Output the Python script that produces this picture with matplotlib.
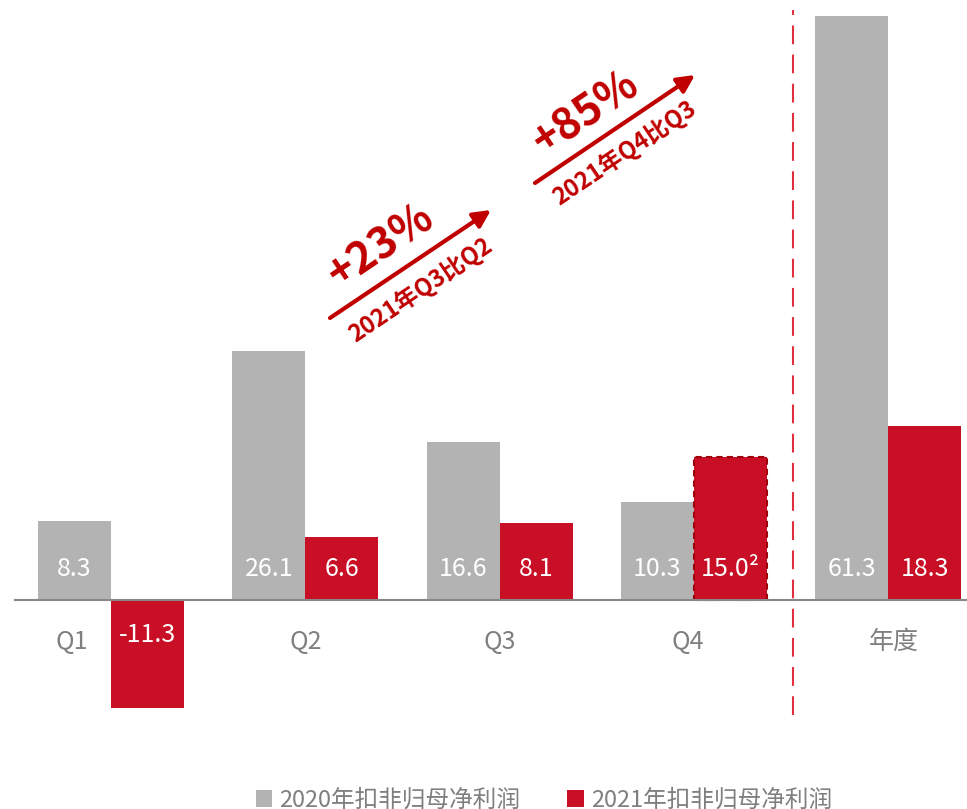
import matplotlib.pyplot as plt
from matplotlib.patches import Patch

plt.rcParams['font.family'] = ['Noto Sans CJK SC', 'DejaVu Sans']

categories = ['Q1', 'Q2', 'Q3', 'Q4', '年度']
profit_2020 = [8.3, 26.1, 16.6, 10.3, 61.3]
profit_2021 = [-11.3, 6.6, 8.1, 15.0, 18.3]
labels_2020 = ['8.3', '26.1', '16.6', '10.3', '61.3']
labels_2021 = ['-11.3', '6.6', '8.1', '15.0²', '18.3']
legend_names = ['2020年扣非归母净利润', '2021年扣非归母净利润']

gray = '#b3b3b3'
red = '#c90f25'
dark_red = '#c00000'
text_gray = '#7f7f7f'

W, H = 967, 809
fig = plt.figure(figsize=(W / 100, H / 100), dpi=100)
ax = fig.add_axes([0, 0, 1, 1])
ax.axis('off')

# pixel scale: 194.3 px per group, 9.53 px per unit, baseline at y=600
ax.set_xlim(-111 / 194.3, (W - 111) / 194.3)
ax.set_ylim(-(H - 600) / 9.53, 600 / 9.53)

w = 73 / 194.3
x = list(range(len(categories)))

ax.bar([i - w / 2 for i in x], profit_2020, width=w, color=gray, zorder=2)
bars = ax.bar([i + w / 2 for i in x], profit_2021, width=w, color=red, zorder=2)
# Q4 2021 is an estimate -> dashed border
bars[3].set_edgecolor('#a0000c')
bars[3].set_linestyle((0, (3, 2)))
bars[3].set_linewidth(1.5)

for i in x:
    ax.text(i - w / 2, 3.3, labels_2020[i], color='white', fontsize=18,
            fontweight='light', ha='center', va='center', zorder=3)
    yy = 3.3 if profit_2021[i] >= 0 else -3.7
    ax.text(i + w / 2, yy, labels_2021[i], color='white', fontsize=18,
            fontweight='light', ha='center', va='center', zorder=3)

# category labels (Q1 sits under the grey bar because of the negative red bar)
cat_x = [-0.2, 1, 2, 2.97, 4.03]
for i, c in enumerate(categories):
    ax.text(cat_x[i], -4.4, c, color=text_gray, fontsize=18, fontweight='light',
            ha='center', va='center')

# baseline
ax.axhline(0, xmin=15 / W, xmax=1, color='#888888', lw=1.5, zorder=3)

# separator before annual
ax.vlines(3.51, -12.1, 61.9, colors='#e0303f', linestyles=(0, (9, 5)), lw=1.5)


def px(xp, yp):
    return (xp / W, 1 - yp / H)


for (x0, y0, x1, y1), big, small, bpos, spos in [
        ((330, 318, 491, 210), '+23%', '2021年Q3比Q2', (381, 246), (420, 290)),
        ((535, 183, 695, 75), '+85%', '2021年Q4比Q3', (586, 113), (624, 153))]:
    ax.annotate('', xy=px(x1, y1), xytext=px(x0, y0), xycoords='figure fraction',
                textcoords='figure fraction',
                arrowprops=dict(arrowstyle='-|>', color=dark_red, lw=3,
                                mutation_scale=26, shrinkA=0, shrinkB=0))
    fig.text(*px(*bpos), big, color=dark_red, fontsize=31, fontweight='bold',
             rotation=34, ha='center', va='center', rotation_mode='anchor')
    fig.text(*px(*spos), small, color=dark_red, fontsize=17, fontweight='bold',
             rotation=34, ha='center', va='center', rotation_mode='anchor')

handles = [Patch(facecolor=gray), Patch(facecolor=red)]
fig.legend(handles, legend_names, loc='center', bbox_to_anchor=(0.5625, 0.011),
           ncol=2, frameon=False, fontsize=17, labelcolor=text_gray,
           handlelength=0.7, handleheight=0.7, handletextpad=0.3, columnspacing=2.0)

fig.savefig('out.png', dpi=100)
